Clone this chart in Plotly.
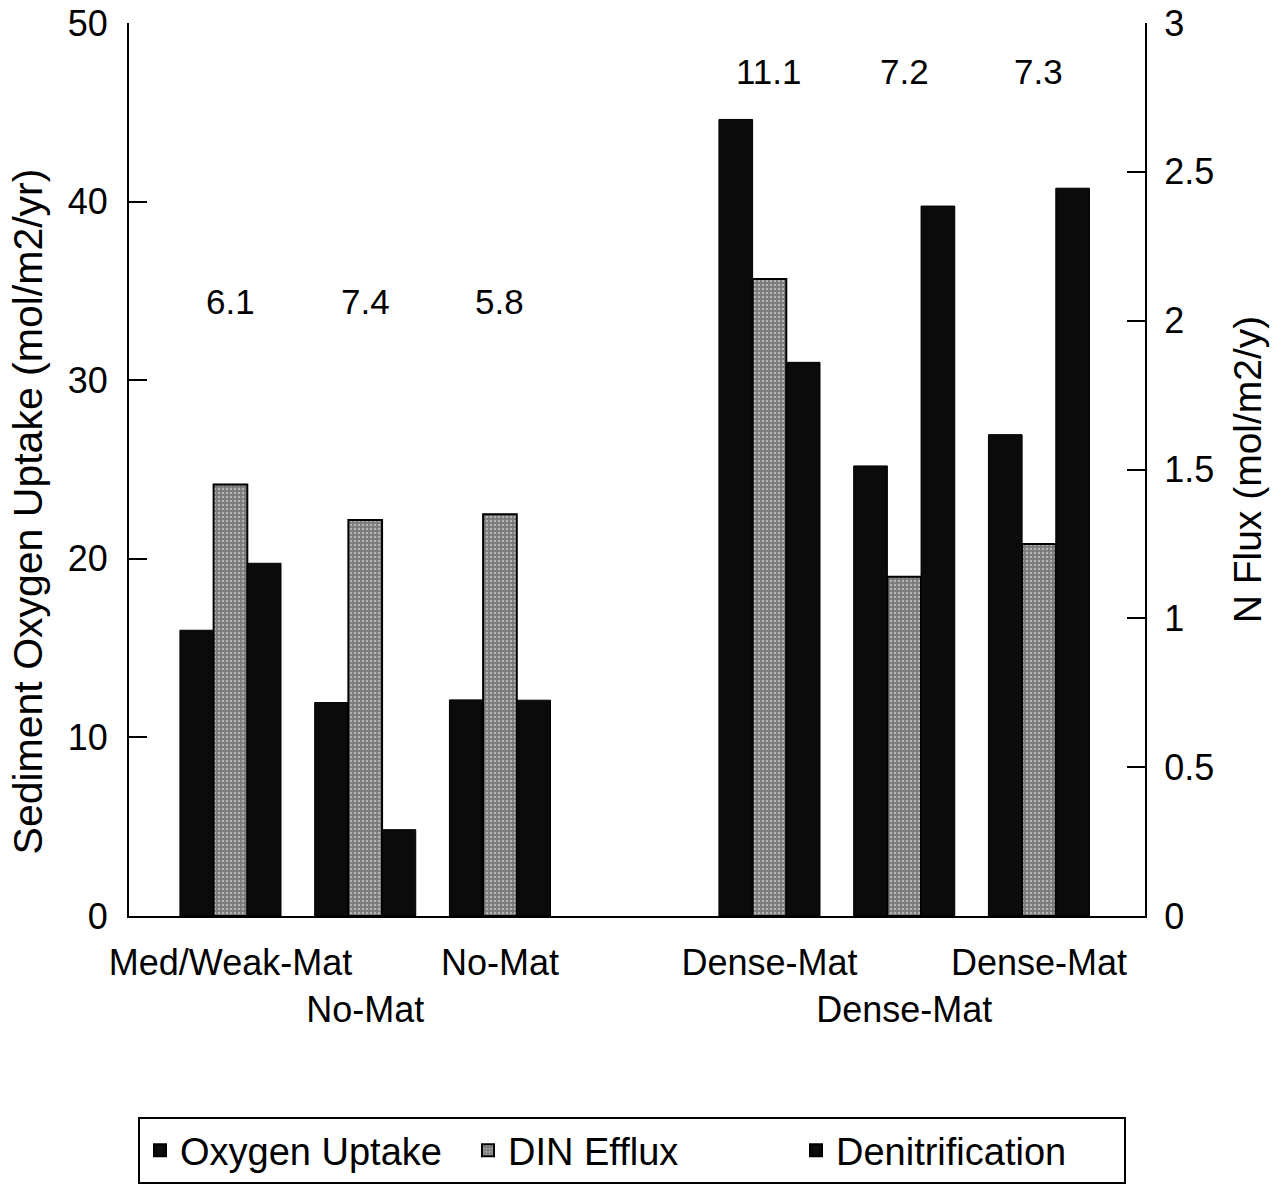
import plotly.graph_objects as go

# ---------------- data ----------------
sites = ["Med/Weak-Mat", "No-Mat", "No-Mat", "", "Dense-Mat", "Dense-Mat", "Dense-Mat"]
tick_labels = ["Med/Weak-Mat", "<br>No-Mat", "No-Mat", "", "Dense-Mat", "<br>Dense-Mat", "Dense-Mat"]
oxygen_uptake = [16.0, 11.95, 12.1, None, 44.6, 25.2, 26.95]      # mol/m2/yr (left axis)
din_efflux = [1.45, 1.33, 1.35, None, 2.14, 1.14, 1.25]           # mol/m2/y (right axis)
denitrification = [1.185, 0.29, 0.725, None, 1.86, 2.385, 2.445]  # mol/m2/y (right axis)
ratio_labels = ["6.1", "7.4", "5.8", "", "11.1", "7.2", "7.3"]

x_idx = list(range(len(sites)))
FONT = "Liberation Sans, Arial, sans-serif"

W, H = 1286, 1191

fig = go.Figure()
fig.add_trace(go.Bar(
    x=x_idx, y=oxygen_uptake, name="Oxygen Uptake", yaxis="y",
    width=0.25, offset=-0.375,
    marker=dict(color="#0b0b0b", line=dict(color="#000000", width=1)),
))
fig.add_trace(go.Bar(
    x=x_idx, y=din_efflux, name="DIN Efflux", yaxis="y2",
    width=0.25, offset=-0.125,
    marker=dict(color="#8c8c8c", line=dict(color="#000000", width=2),
                pattern=dict(shape=".", fgcolor="#eeeeee", bgcolor="#7a7a7a",
                             size=4, solidity=0.3)),
))
fig.add_trace(go.Bar(
    x=x_idx, y=denitrification, name="Denitrification", yaxis="y2",
    width=0.25, offset=0.125,
    marker=dict(color="#0b0b0b", line=dict(color="#000000", width=1)),
))

# ratio annotations above groups
ann_y = [34.4, 34.4, 34.4, 34.4, 47.3, 47.3, 47.3]
for xi, lab, yy in zip(x_idx, ratio_labels, ann_y):
    if lab:
        fig.add_annotation(x=xi, y=yy, xref="x", yref="y", text=lab, showarrow=False,
                           font=dict(family=FONT, size=35, color="black"))

# left axis title (placed as annotation, slightly below plot centre as in the original)
fig.add_annotation(x=0, y=0.453, xref="paper", yref="paper", xanchor="center", yanchor="middle",
                   xshift=-101, textangle=-90, showarrow=False,
                   text="Sediment Oxygen Uptake (mol/m2/yr)",
                   font=dict(family=FONT, size=41, color="black"))

fig.update_layout(
    width=W, height=H,
    margin=dict(l=129, r=141, t=23, b=275, autoexpand=False),
    paper_bgcolor="white", plot_bgcolor="white",
    font=dict(family=FONT, color="black"),
    barmode="overlay",
    showlegend=True,
    legend=dict(
        orientation="h", xref="container", yref="container",
        x=138 / W, xanchor="left", y=1 - 1117 / H, yanchor="top",
        font=dict(family=FONT, size=38, color="black"),
        bordercolor="black", borderwidth=2, bgcolor="white",
        entrywidth=283, entrywidthmode="pixels",
        itemsizing="constant",
    ),
    xaxis=dict(
        range=[-0.753, 6.787], tickmode="array", tickvals=x_idx, ticktext=tick_labels,
        showline=True, linecolor="black", linewidth=2, ticks="", showgrid=False,
        zeroline=False, tickfont=dict(family=FONT, size=36, color="black"),
        tickangle=0, automargin=False, ticklabelstandoff=14,
    ),
    yaxis=dict(
        range=[0, 50], dtick=10, ticks="inside", ticklen=18, tickwidth=2, tickcolor="black",
        showline=True, linecolor="black", linewidth=2, showgrid=False, zeroline=False,
        tickfont=dict(family=FONT, size=36, color="black"), automargin=False,
        ticklabelstandoff=12, ticklabeloverflow="allow",
    ),
    yaxis2=dict(
        range=[0, 3], dtick=0.5, overlaying="y", side="right", anchor="x",
        ticks="inside", ticklen=18, tickwidth=2, tickcolor="black",
        showline=True, linecolor="black", linewidth=2, showgrid=False, zeroline=False,
        tickfont=dict(family=FONT, size=36, color="black"), automargin=False,
        ticklabelstandoff=10, ticklabeloverflow="allow",
        title=dict(text="N Flux (mol/m2/y)", standoff=20,
                   font=dict(family=FONT, size=39, color="black")),
    ),
)

fig.write_html(
    "out.html",
    config={"displayModeBar": False},
    post_script="document.body.style.margin='0px';document.body.style.overflow='hidden';",
)
